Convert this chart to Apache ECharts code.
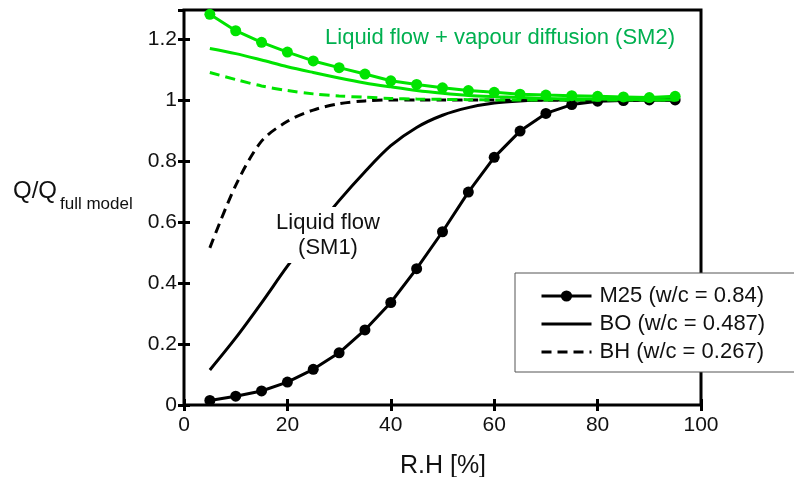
<!DOCTYPE html>
<html>
<head>
<meta charset="utf-8">
<script src="https://cdn.jsdelivr.net/npm/echarts@6/dist/echarts.min.js"></script>
<style>html,body{margin:0;padding:0;background:#fff}#c{width:794px;height:477px}</style>
</head>
<body>
<div id="c"></div>
<script>
var rh = [5,10,15,20,25,30,35,40,45,50,55,60,65,70,75,80,85,90,95];
var xTicks = [0,20,40,60,80,100];
var yTicks = [0,0.2,0.4,0.6,0.8,1,1.2];
// SM1: liquid flow only (black)
var m25_sm1 = [0.015,0.029,0.046,0.075,0.117,0.171,0.246,0.336,0.447,0.568,0.698,0.812,0.898,0.956,0.985,0.996,0.998,1.0,1.0];
var bo_sm1  = [0.115,0.22,0.335,0.455,0.565,0.67,0.765,0.85,0.91,0.95,0.975,0.99,0.997,1.0,1.0,1.0,1.0,1.0,1.0];
var bh_sm1  = [0.515,0.72,0.865,0.93,0.967,0.988,0.997,1.0,1.0,1.0,1.0,1.0,1.0,1.0,1.0,1.0,1.0,1.0,1.0];
// SM2: liquid flow + vapour diffusion (green)
var m25_sm2 = [1.281,1.227,1.189,1.157,1.128,1.106,1.085,1.063,1.051,1.040,1.031,1.025,1.019,1.016,1.014,1.012,1.010,1.008,1.012];
var bo_sm2  = [1.169,1.152,1.131,1.109,1.090,1.072,1.056,1.043,1.031,1.022,1.015,1.011,1.008,1.005,1.004,1.003,1.002,1.001,1.001];
var bh_sm2  = [1.090,1.067,1.046,1.031,1.020,1.013,1.009,1.005,1.003,1.002,1.001,1.0,1.0,1.0,1.0,1.0,1.0,1.0,1.0];
var names = ['M25 (w/c = 0.84)','BO (w/c = 0.487)','BH (w/c = 0.267)'];

function pairs(v){ return rh.map(function(x,i){ return [x, v[i]]; }); }
var FONT = '"Liberation Sans", Arial, sans-serif';
var GREEN = '#00e400';
var chart = echarts.init(document.getElementById('c'));
var tickStyle = {show:true, inside:true, length:6, lineStyle:{color:'#000', width:3}};
function xAx(pos, show){ return {type:'value', position:pos, min:xTicks[0], max:xTicks[xTicks.length-1], interval:20,
  axisLine:{show:false}, axisTick:tickStyle, splitLine:{show:false},
  axisLabel:{show:show, fontSize:21, fontFamily:FONT, color:'#111', margin:10}}; }
function yAx(pos, show){ return {type:'value', position:pos, min:0, max:1.295, interval:0.2,
  axisLine:{show:false}, axisTick:tickStyle, splitLine:{show:false},
  axisLabel:{show:show, fontSize:21, fontFamily:FONT, color:'#111', margin:7, showMaxLabel:false}}; }
function line(name, data, color, type, sym, z, smooth){
  return {name:name, type:'line', xAxisIndex:0, yAxisIndex:0, data:pairs(data), z:z,
    smooth: smooth, showSymbol: !!sym, symbol: 'circle', symbolSize: 11,
    itemStyle: sym ? {color:color} : {color:'rgba(0,0,0,0)', borderWidth:0},
    lineStyle:{color:color, width:3, type:type}, animation:false};
}
chart.setOption({
  animation:false,
  grid:{left:184, right:93, top:10, bottom:72, show:true, borderColor:'#000', borderWidth:3, backgroundColor:'transparent'},
  xAxis:[xAx('bottom', true), xAx('top', false)],
  yAxis:[yAx('left', true), yAx('right', false)],
  legend:{orient:'vertical', left:515, top:273, data:names, selectedMode:false,
    itemWidth:50, itemHeight:14, itemGap:6, padding:[12,40,9,25],
    backgroundColor:'#fff', borderColor:'#555', borderWidth:1,
    lineStyle:{width:3},
    textStyle:{fontSize:22, fontFamily:FONT, color:'#111', padding:[0,0,0,3]}},
  graphic:[
    {type:'text', left:13, top:179, style:{text:'Q/Q', fontSize:24, fontFamily:FONT, fill:'#111'}},
    {type:'text', left:60, top:196, style:{text:'full model', fontSize:17, fontFamily:FONT, fill:'#111'}},
    {type:'text', x:443, y:466, style:{text:'R.H [%]', fontSize:25, fontFamily:FONT, fill:'#111', textAlign:'center', textVerticalAlign:'middle'}},
    {type:'text', x:500, y:38, z:10, style:{text:'Liquid flow + vapour diffusion (SM2)', fontSize:22, fontFamily:FONT, fill:'#00b050', textAlign:'center', textVerticalAlign:'middle'}},
    {type:'text', x:328, y:235, z:10, style:{text:'Liquid flow\n(SM1)', fontSize:22, lineHeight:25, fontFamily:FONT, fill:'#111', textAlign:'center', textVerticalAlign:'middle', backgroundColor:'#fff', padding:[3,6,3,6]}}
  ],
  series:[
    line(names[0], m25_sm1, '#000', 'solid', true, 3, false),
    line(names[1], bo_sm1, '#000', 'solid', false, 2, 0.3),
    line(names[2], bh_sm1, '#000', [10,6], false, 2, 0.3),
    line('M25 SM2', m25_sm2, GREEN, 'solid', true, 6, false),
    line('BO SM2', bo_sm2, GREEN, 'solid', false, 5, 0.3),
    line('BH SM2', bh_sm2, GREEN, [10,6], false, 5, 0.3)
  ]
});
</script>
</body>
</html>
